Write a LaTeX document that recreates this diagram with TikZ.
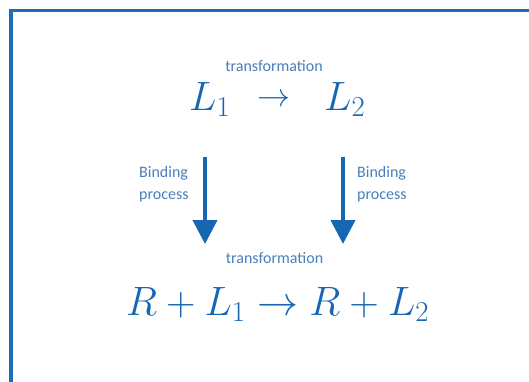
\RequirePackage{fix-cm}
\documentclass[tikz,border=0pt]{standalone}
\usepackage{fontspec}
\newfontfamily\calfont{Carlito}
\usetikzlibrary{arrows.meta}
\definecolor{mathblue}{RGB}{22,102,178}
\definecolor{lblblue}{RGB}{74,126,187}
\definecolor{borderblue}{RGB}{28,108,184}
\tikzset{
  mathtxt/.style={inner sep=0pt, text=mathblue, font=\fontsize{41}{49}\selectfont},
  lbl/.style={inner sep=0pt, text=lblblue, font=\calfont\fontsize{16}{22.5}\selectfont},
  bindarrow/.style={draw=mathblue, line width=4pt, -{Triangle[width=24pt,length=24pt]}},
  frameline/.style={draw=borderblue, line width=3.3pt}
}
\begin{document}
\begin{tikzpicture}[x=1pt,y=-1pt]
\useasboundingbox (0,0) rectangle (529,381);
\coordinate (fb) at (11,384);
\coordinate (fc) at (11,10.5);
\coordinate (fr) at (532,10.5);
\draw[frameline] (fb) -- (fc) -- (fr);

\node[lbl, anchor=base] (t1) at (274,71) {transformation};
\node[mathtxt, anchor=base west] (L1) at (189,110) {$L_1$};
\node[mathtxt, anchor=base, font=\fontsize{33}{40}\selectfont] (ar) at (273.5,106) {$\to$};
\node[mathtxt, anchor=base west] (L2) at (324,110) {$L_2$};

\coordinate (a1s) at (205,157);
\coordinate (a1e) at (205,244);
\coordinate (a2s) at (343,157);
\coordinate (a2e) at (343,244);
\draw[bindarrow] (a1s) -- (a1e);
\draw[bindarrow] (a2s) -- (a2e);

\node[lbl, anchor=base west, align=left] (b1) at (139,199.5) {Binding\\process};
\node[lbl, anchor=base west, align=left] (b2) at (357,199.5) {Binding\\process};

\node[lbl, anchor=base] (t2) at (274.5,263) {transformation};
\node[mathtxt, anchor=base] (eq) at (277.5,315) {$R+L_1\to R+L_2$};
\end{tikzpicture}
\end{document}
